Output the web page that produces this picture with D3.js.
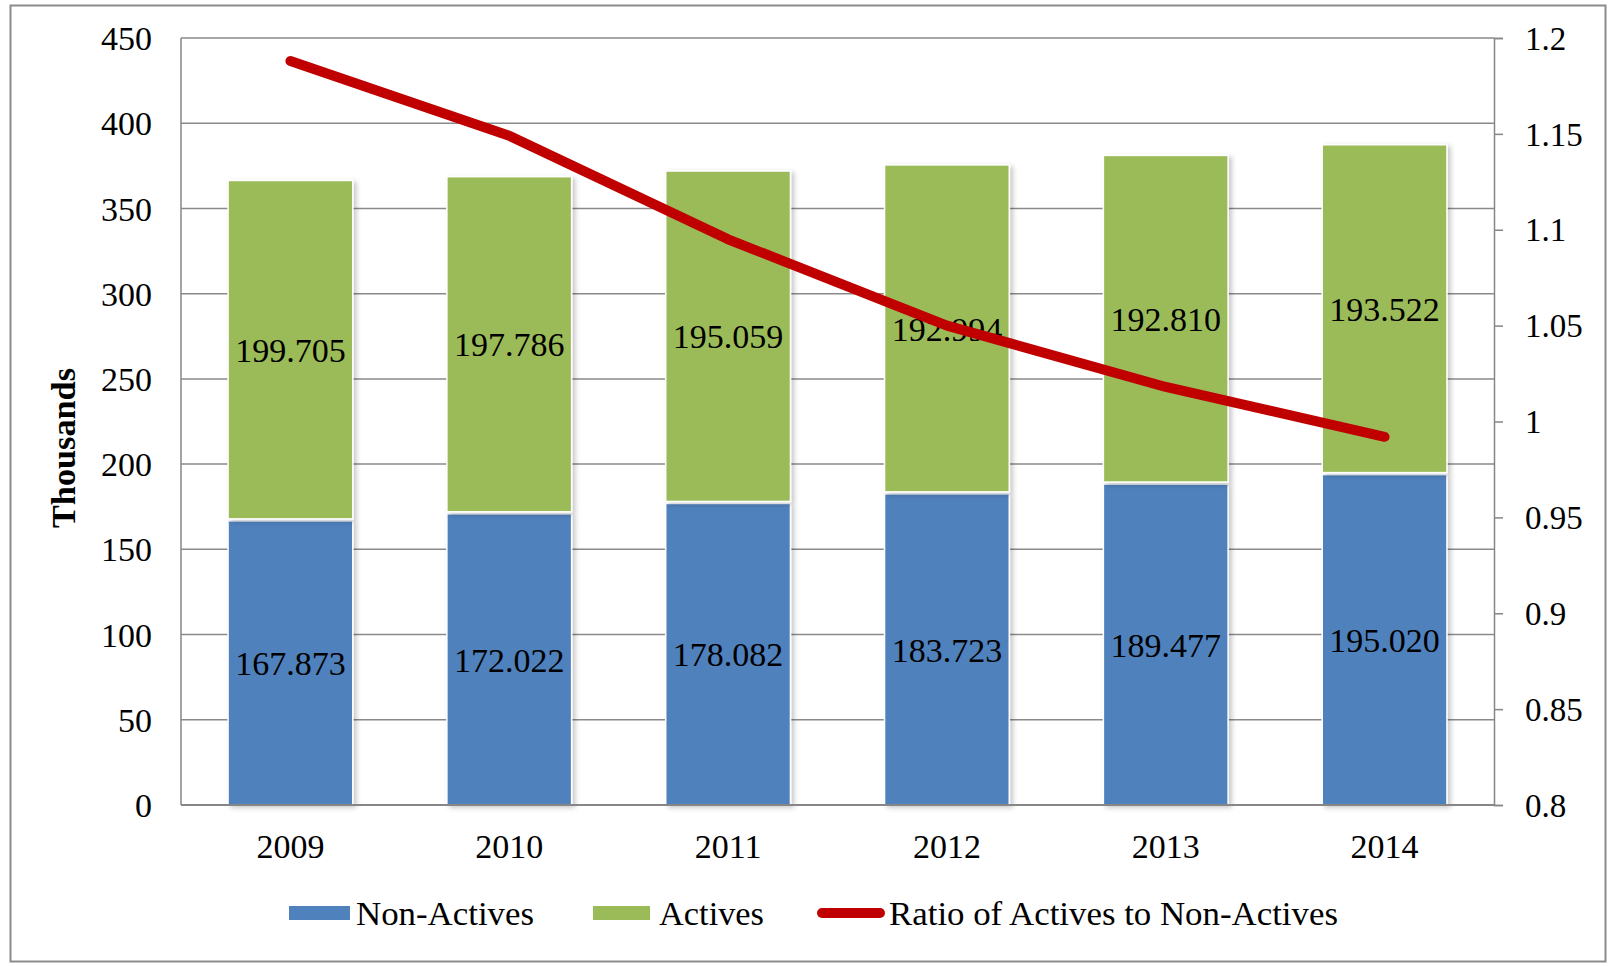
<!DOCTYPE html>
<html>
<head>
<meta charset="utf-8">
<script src="https://cdn.jsdelivr.net/npm/d3@7"></script>
<style>
  body { margin: 0; background: #fff; }
  text { font-family: "Liberation Serif", "Times New Roman", serif; fill: #000; }
</style>
</head>
<body>
<div id="chart"></div>
<script>
// data (thousands)
var years = ["2009", "2010", "2011", "2012", "2013", "2014"];
var nonActives = [167.873, 172.022, 178.082, 183.723, 189.477, 195.020];
var actives = [199.705, 197.786, 195.059, 192.994, 192.810, 193.522];
var ratio = [1.188, 1.149, 1.095, 1.05, 1.018, 0.992];
var leftTicks = [0, 50, 100, 150, 200, 250, 300, 350, 400, 450];
var rightTicks = [0.8, 0.85, 0.9, 0.95, 1, 1.05, 1.1, 1.15, 1.2];

var width = 1614, height = 966;
var m = {left: 181, right: 1494, top: 38, bottom: 805};

var svg = d3.select("#chart").append("svg")
    .attr("width", width)
    .attr("height", height);

var defs = svg.append("defs");
var f = defs.append("filter").attr("id", "shadow")
    .attr("x", "-10%").attr("y", "-5%").attr("width", "125%").attr("height", "115%");
f.append("feDropShadow")
    .attr("dx", 3).attr("dy", 2).attr("stdDeviation", 2.5)
    .attr("flood-color", "#000").attr("flood-opacity", 0.22);

// outer frame
svg.append("rect")
    .attr("x", 10.5).attr("y", 5.5)
    .attr("width", 1595).attr("height", 956)
    .attr("fill", "#fff").attr("stroke", "#8c8c8c").attr("stroke-width", 2);

var x = d3.scaleBand().domain(years).range([m.left, m.right]).paddingInner(0.43).paddingOuter(0.215);
var y = d3.scaleLinear().domain([0, 450]).range([m.bottom, m.top]);
var y2 = d3.scaleLinear().domain([0.8, 1.2]).range([m.bottom, m.top]);

// gridlines
svg.append("g").selectAll("line")
    .data(leftTicks.slice(1))
    .enter().append("line")
    .attr("x1", m.left).attr("x2", m.right)
    .attr("y1", function(d) { return y(d); })
    .attr("y2", function(d) { return y(d); })
    .attr("stroke", "#8a8a8a").attr("stroke-width", 1.5);

// stacked bars
var stackData = years.map(function(yr, i) {
  return {year: yr, non: nonActives[i], act: actives[i]};
});
var series = d3.stack().keys(["non", "act"])(stackData);
var colors = {non: "#4F81BD", act: "#9BBB59"};

var groups = svg.append("g").selectAll("g")
    .data(series)
    .enter().append("g")
    .attr("fill", function(s) { return colors[s.key]; });

groups.selectAll("rect")
    .data(function(s) { return s; })
    .enter().append("rect")
    .attr("x", function(d) { return x(d.data.year); })
    .attr("width", x.bandwidth())
    .attr("y", function(d) { return y(d[1]) + 2; })
    .attr("height", function(d) { return y(d[0]) - y(d[1]) - 2; })
    .attr("stroke", "#fff").attr("stroke-width", 1.5)
    .attr("filter", "url(#shadow)");

// axes lines
var axisColor = "#868686";
svg.append("line").attr("x1", m.left).attr("x2", m.left).attr("y1", m.top).attr("y2", m.bottom)
    .attr("stroke", axisColor).attr("stroke-width", 1.5);
svg.append("line").attr("x1", m.left).attr("x2", m.right).attr("y1", m.bottom).attr("y2", m.bottom)
    .attr("stroke", axisColor).attr("stroke-width", 2);

var yAxis = d3.axisLeft(y).tickValues(leftTicks).tickSize(0).tickPadding(29);
svg.append("g").attr("transform", "translate(" + m.left + ",0)").call(yAxis)
    .call(function(g) { g.select(".domain").remove(); })
    .selectAll("text").style("font-size", "34px").attr("dy", "0.34em");

var yAxis2 = d3.axisRight(y2).tickValues(rightTicks).tickSize(9).tickPadding(22)
    .tickFormat(function(d) { return d3.format("~g")(d); });
var ga = svg.append("g").attr("transform", "translate(" + m.right + ",0)").call(yAxis2);
ga.select(".domain").attr("stroke", axisColor).attr("stroke-width", 1.5);
ga.selectAll(".tick line").attr("stroke", axisColor).attr("stroke-width", 1.5);
ga.selectAll("text").style("font-size", "33px").attr("dy", "0.34em");

var xAxis = d3.axisBottom(x).tickSize(0).tickPadding(29);
svg.append("g").attr("transform", "translate(0," + m.bottom + ")").call(xAxis)
    .call(function(g) { g.select(".domain").remove(); })
    .selectAll("text").style("font-size", "34px");

// axis title
svg.append("text")
    .attr("transform", "translate(75,448) rotate(-90)")
    .attr("text-anchor", "middle")
    .style("font-size", "33px").style("font-weight", "bold")
    .attr("textLength", 160).attr("lengthAdjust", "spacingAndGlyphs")
    .text("Thousands");

// value labels
var fmt = d3.format(".3f");
groups.selectAll("text")
    .data(function(s) { return s; })
    .enter().append("text")
    .attr("x", function(d) { return x(d.data.year) + x.bandwidth() / 2; })
    .attr("y", function(d) { return (y(d[0]) + y(d[1])) / 2 + 1; })
    .attr("dy", "0.36em")
    .attr("text-anchor", "middle")
    .style("font-size", "34px")
    .text(function(d) { return fmt(d[1] - d[0]); });

// ratio line
var line = d3.line()
    .x(function(d, i) { return x(years[i]) + x.bandwidth() / 2; })
    .y(function(d) { return y2(d); });
svg.append("path")
    .datum(ratio)
    .attr("d", line)
    .attr("fill", "none")
    .attr("stroke", "#C00000")
    .attr("stroke-width", 10)
    .attr("stroke-linecap", "round")
    .attr("stroke-linejoin", "round");

// legend
var legendY = 913;
var leg = svg.append("g");
function legText(xp, w, s) {
  leg.append("text").attr("x", xp).attr("y", legendY).attr("dy", "0.35em")
      .style("font-size", "33px")
      .attr("textLength", w).attr("lengthAdjust", "spacingAndGlyphs")
      .text(s);
}
leg.append("rect").attr("x", 289).attr("y", legendY - 7).attr("width", 61).attr("height", 14).attr("fill", colors.non);
legText(356, 178, "Non-Actives");
leg.append("rect").attr("x", 593).attr("y", legendY - 7).attr("width", 57).attr("height", 14).attr("fill", colors.act);
legText(659, 105, "Actives");
leg.append("line").attr("x1", 822).attr("x2", 880).attr("y1", legendY).attr("y2", legendY)
    .attr("stroke", "#C00000").attr("stroke-width", 10).attr("stroke-linecap", "round");
legText(889, 449, "Ratio of Actives to Non-Actives");
</script>
</body>
</html>
